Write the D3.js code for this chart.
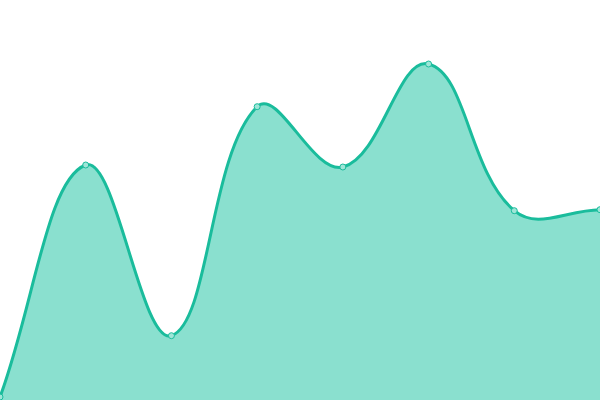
<!DOCTYPE html>
<meta charset="utf-8">
<style>
body { margin: 0; background: #fff; }
.area { fill: #8ae0cf; }
.line { fill: none; stroke: #1abc9c; stroke-width: 3px; }
.dot { fill: #9fe6d8; stroke: #1abc9c; stroke-width: 1px; }
</style>
<body>
<div id="chart"></div>
<script src="https://d3js.org/d3.v7.min.js"></script>
<script>
// data
var labels = ["A", "B", "C", "D", "E", "F", "G", "H"];
var values = [3, 235, 64.3, 293.3, 233, 336, 189.3, 190.3];

var width = 600, height = 400;

// spline with distance weighted control points (tension 0.4)
function SplineCurve(context) { this._context = context; }
SplineCurve.prototype = {
  areaStart: function() { this._line = 0; },
  areaEnd: function() { this._line = NaN; },
  lineStart: function() { this._xs = []; this._ys = []; },
  point: function(x, y) { this._xs.push(+x); this._ys.push(+y); },
  lineEnd: function() {
    var xs = this._xs, ys = this._ys, n = xs.length, t = 0.4, ctx = this._context;
    if (n) {
      if (this._line) ctx.lineTo(xs[0], ys[0]); else ctx.moveTo(xs[0], ys[0]);
      var cp = [];
      for (var i = 0; i < n; i++) {
        var p = i > 0 ? i - 1 : i, q = i < n - 1 ? i + 1 : i;
        var d01 = Math.hypot(xs[i] - xs[p], ys[i] - ys[p]);
        var d12 = Math.hypot(xs[q] - xs[i], ys[q] - ys[i]);
        var s01 = d01 / (d01 + d12) || 0, s12 = d12 / (d01 + d12) || 0;
        var fa = t * s01, fb = t * s12;
        cp.push({
          px: xs[i] - fa * (xs[q] - xs[p]), py: ys[i] - fa * (ys[q] - ys[p]),
          nx: xs[i] + fb * (xs[q] - xs[p]), ny: ys[i] + fb * (ys[q] - ys[p])
        });
      }
      for (var j = 1; j < n; j++) {
        ctx.bezierCurveTo(cp[j - 1].nx, cp[j - 1].ny, cp[j].px, cp[j].py, xs[j], ys[j]);
      }
    }
    if (this._line || (this._line !== 0 && n === 1)) ctx.closePath();
    this._line = 1 - this._line;
  }
};
function curveSpline(context) { return new SplineCurve(context); }

var x = d3.scalePoint().domain(labels).range([0, width]);
var y = d3.scaleLinear().domain([0, 400]).range([height, 0]);

var data = labels.map(function(l, i) { return {label: l, value: values[i]}; });

var area = d3.area()
    .curve(curveSpline)
    .x(function(d) { return x(d.label); })
    .y0(height)
    .y1(function(d) { return y(d.value); });

var line = d3.line()
    .curve(curveSpline)
    .x(function(d) { return x(d.label); })
    .y(function(d) { return y(d.value); });

var svg = d3.select("#chart").append("svg")
    .attr("width", width)
    .attr("height", height);

svg.append("path").datum(data).attr("class", "area").attr("d", area);
svg.append("path").datum(data).attr("class", "line").attr("d", line);

svg.selectAll(".dot").data(data).enter().append("circle")
    .attr("class", "dot")
    .attr("cx", function(d) { return x(d.label); })
    .attr("cy", function(d) { return y(d.value); })
    .attr("r", 3);
</script>
</body>
